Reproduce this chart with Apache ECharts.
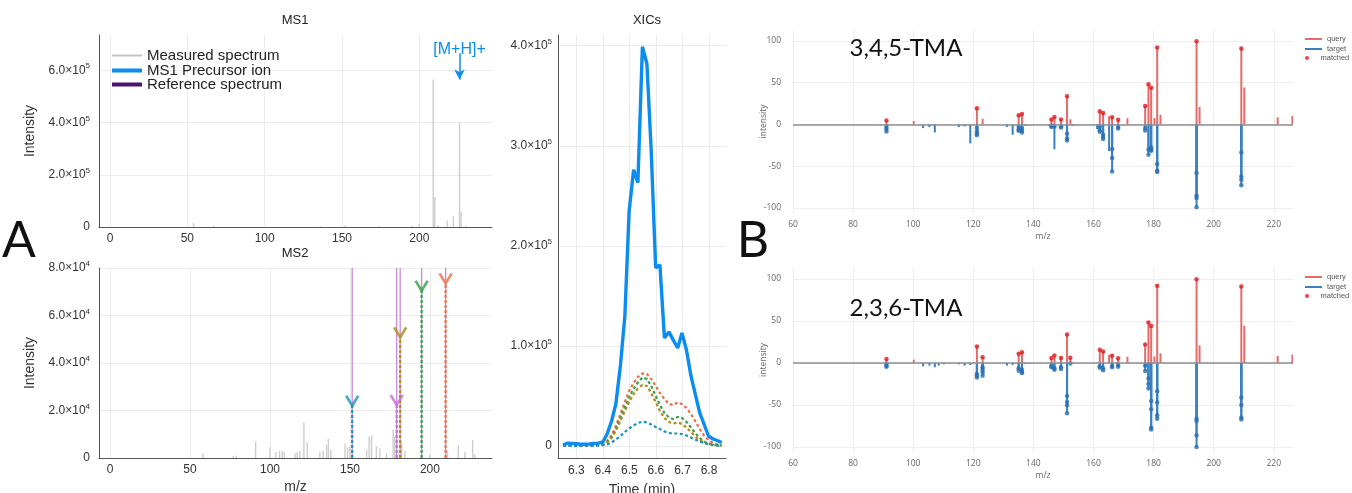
<!DOCTYPE html>
<html>
<head>
<meta charset="utf-8">
<title>TMA spectra</title>
<script src="https://cdn.jsdelivr.net/npm/echarts@6/dist/echarts.min.js"></script>
<style>
  html, body { margin: 0; padding: 0; background: #fff; }
  #chart { width: 1352px; height: 493px; }
</style>
</head>
<body>
<div id="chart"></div>
<script>
// ---- panel A: MS1 spectrum ----
const ms1Mz = [54, 67, 136, 152, 174, 195, 200, 209, 210, 212, 218, 222, 226, 227, 230];
const ms1Int = [15000, 4000, 3000, 6000, 3000, 5000, 12000, 565000, 115000, 8000, 25000, 40000, 400000, 60000, 5000];
const precursorMz = 226;
const precursorArrow = [665000, 565000];

// ---- panel A: MS2 spectrum ----
const ms2Mz = [58, 77, 79, 91, 100, 103.7, 106, 107.7, 109, 115.6, 117, 118.7, 121.2, 123.3, 131.2, 133.3, 135.4, 136.5, 138,
  146.9, 148.5, 150, 160.4, 162, 163.5, 166.5, 168.7, 172.9, 177, 178, 182.3, 184.4, 200, 211, 217.7, 221.9, 226.7, 228];
const ms2Int = [1800, 800, 1000, 7000, 4500, 2500, 3000, 3000, 2500, 2000, 2500, 3000, 15000, 6500, 2500, 3000, 5500, 8000, 3500,
  6000, 4500, 5000, 3500, 9000, 9500, 5000, 4000, 2000, 12000, 9000, 6500, 3000, 1500, 3000, 5500, 2500, 7500, 1500];
// reference fragments (off scale) and selected fragment ions
const refMz = [151.4, 179.2, 181.4, 194.8, 209.8];
const refInt = [120000, 120000, 120000, 120000, 120000];
const fragMz = [151.4, 179.2, 181.4, 194.8, 209.8];
const fragInt = [22000, 22300, 50800, 70400, 73500];

// ---- panel A: XICs ----
const xicTime = [6.250, 6.267, 6.283, 6.300, 6.317, 6.333, 6.350, 6.366, 6.383, 6.400, 6.416, 6.433, 6.449, 6.466, 6.483, 6.499,
  6.516, 6.532, 6.549, 6.566, 6.582, 6.599, 6.615, 6.632, 6.649, 6.665, 6.682, 6.698, 6.715, 6.732, 6.748, 6.765, 6.781, 6.798,
  6.815, 6.831, 6.848];
const xicPrecursor = [1000, 2800, 2600, 2200, 1800, 1800, 2000, 2500, 2800, 4000, 12000, 25000, 42000, 80000, 130000, 235000,
  276000, 263000, 399000, 382000, 296000, 178000, 181000, 108000, 114000, 106000, 98000, 113000, 96000, 70000, 52000, 33000,
  22000, 10000, 7000, 5500, 3500];
const xicOrange = [0, 500, 500, 500, 500, 500, 600, 800, 1000, 2000, 5000, 11000, 20000, 32000, 44000, 55000, 63000, 69000,
  72500, 72000, 67000, 60000, 53000, 47000, 42000, 41000, 43500, 42000, 38000, 32000, 25000, 17000, 10500, 6000, 3000, 1500, 1000];
const xicGreen = [0, 300, 300, 300, 300, 300, 400, 600, 800, 1600, 4000, 9000, 17000, 28000, 39000, 49000, 57000, 63500,
  68500, 67000, 60000, 50000, 41000, 33000, 28500, 27000, 29000, 28000, 24000, 18500, 13000, 8000, 4500, 2500, 1500, 800, 500];
const xicGold = [0, 300, 300, 300, 300, 300, 400, 600, 800, 1500, 3500, 8000, 15000, 25000, 35000, 44000, 52000, 57500,
  61000, 60000, 53000, 44000, 35000, 28000, 24000, 22500, 23500, 22000, 18500, 14000, 9500, 6000, 3500, 2000, 1200, 700, 400];
const xicTeal = [0, 200, 200, 200, 200, 200, 300, 400, 500, 800, 1500, 3500, 6500, 10000, 14000, 17500, 20500, 23000,
  24300, 23500, 21500, 19000, 17000, 14500, 13000, 12500, 12500, 12000, 10500, 8500, 6500, 4500, 3000, 1800, 1000, 500, 300];

// ---- panel B: mirror plots ----
const queryMz = [91.1, 100.2, 121.2, 123.1, 135.1, 136.2, 146.0, 147.0, 149.2, 151.2, 152.3, 162.1, 163.2, 165.2, 166.2, 168.2,
  171.3, 177.2, 178.3, 179.2, 180.3, 181.2, 182.3, 194.3, 195.3, 209.2, 210.2, 221.3, 226.2];
const queryInt = [4.6, 4, 19.5, 6.8, 11, 12.6, 6, 8.8, 6, 33.8, 6.2, 15.7, 13.7, 9.8, 8.7, 5.6,
  7.4, 21.9, 48, 44, 7.6, 92, 11.5, 99.5, 20.8, 91, 44.3, 8.4, 10];
const matched345 = [91.1, 121.2, 135.1, 136.2, 146.0, 147.0, 149.2, 151.2, 162.1, 163.2, 166.2, 168.2, 177.2, 178.3, 179.2,
  181.2, 194.3, 209.2];
const matched236 = [91.1, 121.2, 123.1, 135.1, 136.2, 146.0, 147.0, 149.2, 151.2, 152.3, 162.1, 163.2, 166.2, 168.2, 177.2,
  178.3, 179.2, 181.2, 194.3, 209.2];
const target345 = [[91.1, -3.2], [91.1, -5.6], [91.1, -8.4], [121.2, -4.4], [121.2, -8.4], [121.2, -10.8], [121.2, -13.1],
  [135.1, -3.2], [135.1, -6.4], [135.1, -7.6], [136.2, -4.4], [136.2, -7.6], [136.2, -9.6], [146.0, -1.6], [146.0, -3.2],
  [147.0, -2.4], [149.2, -2.4], [149.2, -3.6], [151.2, -11.2], [151.2, -16.7], [151.2, -19.1], [162.1, -3.2], [162.1, -7.2],
  [162.1, -8.8], [163.2, -12.4], [163.2, -15.1], [163.2, -17.5], [166.2, -29.5], [166.2, -40.2], [166.2, -56.2],
  [168.2, -3.2], [168.2, -4.8], [177.2, -4.4], [177.2, -7.2], [178.3, -30.3], [178.3, -36.3], [179.2, -27.5], [179.2, -30.3],
  [179.2, -31.5], [181.2, -47.4], [181.2, -55.4], [181.2, -57], [194.3, -58.2], [194.3, -85.3], [194.3, -88], [194.3, -99.2],
  [209.2, -33.5], [209.2, -62.2], [209.2, -66.1], [209.2, -72.9]];
const target345Unmatched = [[103.3, -4.4], [105.4, -3.2], [107.2, -9.6], [115.2, -3.2], [117.1, -2.4], [119.0, -22.7],
  [131.2, -3], [133.1, -12.4], [137.3, -1.6], [145.3, -1.6], [147.0, -29.8], [153.1, -1.6], [161.2, -5.6], [165.2, -32]];
const target236 = [[91.1, -1.2], [91.1, -3.2], [91.1, -4.4], [121.2, -13.2], [121.2, -15.2], [121.2, -17.2], [123.1, -5.2],
  [123.1, -8], [123.1, -11.2], [123.1, -15.2], [135.1, -6.4], [135.1, -9.2], [136.2, -8], [136.2, -11.2], [136.2, -12],
  [146.0, -3.2], [146.0, -5.2], [147.0, -6.4], [147.0, -8], [149.2, -5.2], [149.2, -7.2], [151.2, -39.2], [151.2, -46.4],
  [151.2, -50.4], [151.2, -60], [152.3, -0.8], [162.1, -4], [162.1, -5.6], [163.2, -6.4], [163.2, -8.8], [166.2, -3.2],
  [166.2, -5.2], [168.2, -2.4], [168.2, -4.4], [177.2, -3.2], [177.2, -9.6], [178.3, -18.4], [178.3, -25.2], [178.3, -30.4],
  [179.2, -45.2], [179.2, -55.2], [179.2, -77.2], [179.2, -79.2], [181.2, -33.6], [181.2, -47.2], [181.2, -62.4],
  [181.2, -66.4], [194.3, -66.4], [194.3, -69.2], [194.3, -86.4], [194.3, -100], [209.2, -41.2], [209.2, -50],
  [209.2, -65.2], [209.2, -67.2]];
const target236Unmatched = [[103.3, -4], [105.4, -3.2], [107.2, -5.2], [108.5, -3.2], [110.2, -1.6], [115.2, -1.6],
  [117.1, -3.2], [119.0, -2.4], [131.2, -3.2], [133.1, -2.4], [137.3, -1.2], [138.4, -0.8], [153.4, -0.8]];

// ---- colours ----
const FONT = 'Liberation Sans, Arial, sans-serif';
const PLOTLY_FONT = 'Open Sans, Liberation Sans, sans-serif';
const BIG_FONT = 'Lato, Open Sans, sans-serif';
const fragColors = ['#1a93c0', '#c56fd4', '#b08a1c', '#35a048', '#ec7046'];
const precursorColor = '#0a8cf0';
const queryColor = '#e56b6b';
const matchColor = '#e0191c';
const targetColor = '#3a80c0';
const targetDotColor = '#2a6fb3';

// stem helper: [x, yFrom, yTo]
function stemData(xs, ys) {
    return xs.map((x, i) => [x, 0, ys[i]]);
}
function stemSeries(name, xi, data, style, extra) {
    return Object.assign({
        name: name,
        type: 'custom',
        xAxisIndex: xi,
        yAxisIndex: xi,
        clip: true,
        data: data,
        encode: {x: 0, y: [1, 2]},
        itemStyle: {color: style.stroke},
        renderItem: function (params, api) {
            const p0 = api.coord([api.value(0), api.value(1)]);
            const p1 = api.coord([api.value(0), api.value(2)]);
            const s = Object.assign({}, style);
            if (style.colors) {
                s.stroke = style.colors[params.dataIndex];
            }
            delete s.colors;
            return {type: 'line', shape: {x1: p0[0], y1: p0[1], x2: p1[0], y2: p1[1]}, style: s};
        },
    }, extra || {});
}

function onStep(v, step) {
    return Math.abs(v / step - Math.round(v / step)) < 1e-6;
}
function sciFmt(step) {
    return function (v) {
        if (!onStep(v, step)) return '';
        if (Math.abs(v) < 1e-9) return '{m|0}';
        const e = Math.floor(Math.log10(Math.abs(v)) + 1e-9);
        const m = (v / Math.pow(10, e)).toFixed(1);
        return '{m|' + m + '×10}{e|' + e + '}';
    };
}
function plainFmt(step, digits) {
    return function (v) {
        if (!onStep(v, step)) return '';
        return digits ? v.toFixed(digits) : String(Math.round(v));
    };
}
const sciRich = {
    m: {fontSize: 12, lineHeight: 16, color: '#333', fontFamily: FONT},
    e: {fontSize: 8, lineHeight: 9, color: '#333', fontFamily: FONT, verticalAlign: 'top'},
};

function juliaAxis(extra) {
    return Object.assign({
        type: 'value',
        nameMoveOverlap: false,
        axisLine: {show: true, onZero: false, lineStyle: {color: '#555', width: 1}},
        axisTick: {show: false},
        splitLine: {show: true, showMinLine: false, showMaxLine: false, lineStyle: {color: '#ececec', width: 1}},
        nameTextStyle: {fontSize: 14, color: '#333', fontFamily: FONT},
    }, extra);
}
function plotlyAxis(extra) {
    return Object.assign({
        type: 'value',
        nameMoveOverlap: false,
        axisLine: {show: false},
        axisTick: {show: false},
        splitLine: {show: true, showMaxLine: false, lineStyle: {color: '#eeeeee', width: 1}},
        nameTextStyle: {fontSize: 8.5, color: '#666', fontFamily: PLOTLY_FONT},
    }, extra);
}

function matchedPoints(list) {
    return queryMz.map((m, i) => [m, queryInt[i]]).filter((p) => list.indexOf(p[0]) >= 0);
}
function mirrorSeries(xi, matched, target, unmatched) {
    const allTarget = target.concat(unmatched);
    return [
        stemSeries('query', xi, stemData(queryMz, queryInt), {stroke: queryColor, lineWidth: 2}),
        stemSeries('target', xi, allTarget.map((p) => [p[0], 0, p[1]]), {stroke: targetColor, lineWidth: 2}),
        {
            name: 'target points', type: 'scatter', xAxisIndex: xi, yAxisIndex: xi,
            data: target, symbolSize: 4.5, itemStyle: {color: targetDotColor}, z: 4,
            markLine: {
                silent: true, symbol: 'none', label: {show: false},
                lineStyle: {color: '#8c8c8c', width: 1.6, type: 'solid'},
                data: [{yAxis: 0}],
            },
        },
        {
            name: 'matched', type: 'scatter', xAxisIndex: xi, yAxisIndex: xi,
            data: matchedPoints(matched), symbolSize: 4.5, itemStyle: {color: matchColor}, z: 5,
        },
    ];
}

function juliaLegend(name, color, h, top) {
    return {
        data: [{name: name, itemStyle: {color: color}}], left: 112, top: top, padding: 0,
        itemWidth: 30, itemHeight: h, icon: 'rect', selectedMode: false,
        textStyle: {fontSize: 15, color: '#222', fontFamily: FONT},
    };
}
function plotlyLegend(top) {
    const textStyle = {fontSize: 7.5, lineHeight: 10, color: '#555', fontFamily: FONT};
    return [
        {data: [{name: 'query', itemStyle: {color: queryColor}}, {name: 'target', itemStyle: {color: targetColor}}],
            orient: 'vertical', left: 1305, top: top, padding: 0, itemGap: 0, itemWidth: 17, itemHeight: 2,
            icon: 'rect', selectedMode: false, textStyle: textStyle},
        {data: [{name: 'matched', itemStyle: {color: matchColor}}], left: 1305, top: top + 19, padding: 0,
            itemWidth: 17, itemHeight: 4, icon: 'circle', selectedMode: false, textStyle: textStyle},
    ];
}

const chart = echarts.init(document.getElementById('chart'));

const titleStyle = {fontSize: 13, fontWeight: 'normal', color: '#222', fontFamily: FONT};
const bigStyle = {fontSize: 50, fontWeight: 'normal', color: '#111', fontFamily: BIG_FONT};
const tmaStyle = {fontSize: 24, fontWeight: 'normal', color: '#111', fontFamily: BIG_FONT};
const option = {
    backgroundColor: '#ffffff',
    animation: false,
    title: [
        {text: 'MS1', left: 295, top: 14, padding: 0, textAlign: 'center', textStyle: titleStyle},
        {text: 'MS2', left: 295, top: 247, padding: 0, textAlign: 'center', textStyle: titleStyle},
        {text: 'XICs', left: 647, top: 14, padding: 0, textAlign: 'center', textStyle: titleStyle},
        {text: 'A', left: 19, top: 216, padding: 0, textAlign: 'center', textStyle: bigStyle, z: 10},
        {text: 'B', left: 753, top: 216, padding: 0, textAlign: 'center', textStyle: bigStyle, z: 10},
        {text: '3,4,5-TMA', left: 906, top: 36, padding: 0, textAlign: 'center', textStyle: tmaStyle, z: 10},
        {text: '2,3,6-TMA', left: 906, top: 296, padding: 0, textAlign: 'center', textStyle: tmaStyle, z: 10},
    ],
    legend: [
        juliaLegend('Measured spectrum', '#c4c4c4', 2, 48),
        juliaLegend('MS1 Precursor ion', precursorColor, 4, 63),
        juliaLegend('Reference spectrum', '#4b1272', 4, 77),
    ].concat(plotlyLegend(34)).concat(plotlyLegend(272)),
    grid: [
        {left: 99, top: 35, width: 393, height: 192, outerBoundsMode: 'none'},
        {left: 99, top: 268, width: 393, height: 190, outerBoundsMode: 'none'},
        {left: 558, top: 35, width: 168, height: 423, outerBoundsMode: 'none'},
        {left: 793, top: 30, width: 500, height: 183, outerBoundsMode: 'none'},
        {left: 793, top: 268, width: 500, height: 184, outerBoundsMode: 'none'},
    ],
    xAxis: [
        juliaAxis({gridIndex: 0, min: -7.1, max: 247, splitNumber: 5,
            axisLabel: {formatter: plainFmt(50), fontSize: 12, color: '#333', fontFamily: FONT, margin: 6}}),
        juliaAxis({gridIndex: 1, min: -6.9, max: 238.8, splitNumber: 5, name: 'm/z', nameLocation: 'middle', nameGap: 22,
            axisLabel: {formatter: plainFmt(50), fontSize: 12, color: '#333', fontFamily: FONT, margin: 6}}),
        juliaAxis({gridIndex: 2, min: 6.231, max: 6.864, splitNumber: 5, name: 'Time (min)', nameLocation: 'middle', nameGap: 25,
            axisLabel: {formatter: plainFmt(0.1, 1), fontSize: 12, color: '#333', fontFamily: FONT, margin: 7}}),
        plotlyAxis({gridIndex: 3, min: 60, max: 226.4, interval: 20, name: 'm/z', nameLocation: 'middle', nameGap: 19,
            axisLabel: {formatter: plainFmt(20), fontSize: 8.5, color: '#666', fontFamily: PLOTLY_FONT, margin: 7}}),
        plotlyAxis({gridIndex: 4, min: 60, max: 226.4, interval: 20, name: 'm/z', nameLocation: 'middle', nameGap: 19,
            axisLabel: {formatter: plainFmt(20), fontSize: 8.5, color: '#666', fontFamily: PLOTLY_FONT, margin: 7}}),
    ],
    yAxis: [
        juliaAxis({gridIndex: 0, min: 0, max: 735000, interval: 200000, name: 'Intensity', nameLocation: 'middle', nameGap: 62,
            axisLabel: {formatter: sciFmt(200000), rich: sciRich, margin: 9}}),
        juliaAxis({gridIndex: 1, min: 0, max: 80000, interval: 20000, name: 'Intensity', nameLocation: 'middle', nameGap: 62,
            splitLine: {show: true, showMinLine: false, lineStyle: {color: '#ececec', width: 1}},
            axisLabel: {formatter: sciFmt(20000), rich: sciRich, margin: 9}}),
        juliaAxis({gridIndex: 2, min: -12000, max: 410700, splitNumber: 5,
            axisLabel: {formatter: sciFmt(100000), rich: sciRich, margin: 6}}),
        plotlyAxis({gridIndex: 3, min: -106, max: 113, splitNumber: 5, name: 'intensity', nameLocation: 'middle', nameGap: 25,
            splitLine: {show: true, showMinLine: false, showMaxLine: false, lineStyle: {color: '#eeeeee', width: 1}},
            axisLabel: {formatter: plainFmt(50), fontSize: 8.5, color: '#666', fontFamily: PLOTLY_FONT, margin: 12}}),
        plotlyAxis({gridIndex: 4, min: -106, max: 113, splitNumber: 5, name: 'intensity', nameLocation: 'middle', nameGap: 25,
            splitLine: {show: true, showMinLine: false, showMaxLine: false, lineStyle: {color: '#eeeeee', width: 1}},
            axisLabel: {formatter: plainFmt(50), fontSize: 8.5, color: '#666', fontFamily: PLOTLY_FONT, margin: 12}}),
    ],
    series: [
        // MS1
        stemSeries('Measured spectrum', 0, stemData(ms1Mz, ms1Int), {stroke: '#cdcdcd', lineWidth: 1.4}),
        {
            name: 'MS1 Precursor ion', type: 'line', xAxisIndex: 0, yAxisIndex: 0, data: [],
            itemStyle: {color: precursorColor},
            markLine: {
                silent: true, symbol: ['none', 'arrow'], symbolSize: [8, 10],
                lineStyle: {color: precursorColor, width: 1.5, type: 'solid'},
                label: {show: true, position: 'start', distance: -4, formatter: '[M+H]+', color: precursorColor,
                    fontSize: 16, fontFamily: FONT},
                data: [[{coord: [precursorMz, precursorArrow[0]]}, {coord: [precursorMz, precursorArrow[1]]}]],
            },
        },
        {name: 'Reference spectrum', type: 'line', xAxisIndex: 0, yAxisIndex: 0, data: [], itemStyle: {color: '#4b1272'}},
        // MS2
        stemSeries('MS2 measured', 1, stemData(ms2Mz, ms2Int), {stroke: '#cdcdcd', lineWidth: 1.4}),
        stemSeries('MS2 reference', 1, stemData(refMz, refInt), {stroke: '#c98bd8', lineWidth: 1.3}),
        stemSeries('MS2 fragments', 1, stemData(fragMz, fragInt), {colors: fragColors, lineWidth: 2.2, lineDash: [3, 2]}, {z: 3}),
        {
            name: 'fragment markers', type: 'scatter', xAxisIndex: 1, yAxisIndex: 1, z: 4,
            symbol: 'path://M0,0L6,10L12,0', symbolSize: [12, 10], symbolOffset: [0, '-50%'],
            data: fragMz.map((m, i) => ({
                value: [m, fragInt[i]],
                itemStyle: {color: 'none', borderColor: fragColors[i], borderWidth: 2.6},
            })),
        },
        // XICs
        {name: 'XIC precursor', type: 'line', xAxisIndex: 2, yAxisIndex: 2, symbol: 'none', z: 5,
            lineStyle: {color: precursorColor, width: 3.4}, data: xicTime.map((t, i) => [t, xicPrecursor[i]])},
        {name: 'XIC 209', type: 'line', xAxisIndex: 2, yAxisIndex: 2, symbol: 'none',
            lineStyle: {color: fragColors[4], width: 2.2, type: [3, 2.5]}, data: xicTime.map((t, i) => [t, xicOrange[i]])},
        {name: 'XIC 194', type: 'line', xAxisIndex: 2, yAxisIndex: 2, symbol: 'none',
            lineStyle: {color: fragColors[3], width: 2.2, type: [3, 2.5]}, data: xicTime.map((t, i) => [t, xicGreen[i]])},
        {name: 'XIC 181', type: 'line', xAxisIndex: 2, yAxisIndex: 2, symbol: 'none',
            lineStyle: {color: fragColors[2], width: 2.2, type: [3, 2.5]}, data: xicTime.map((t, i) => [t, xicGold[i]])},
        {name: 'XIC 151', type: 'line', xAxisIndex: 2, yAxisIndex: 2, symbol: 'none',
            lineStyle: {color: fragColors[0], width: 2.2, type: [3, 2.5]}, data: xicTime.map((t, i) => [t, xicTeal[i]])},
    ]
        .concat(mirrorSeries(3, matched345, target345, target345Unmatched))
        .concat(mirrorSeries(4, matched236, target236, target236Unmatched)),
};

chart.setOption(option);
</script>
</body>
</html>
